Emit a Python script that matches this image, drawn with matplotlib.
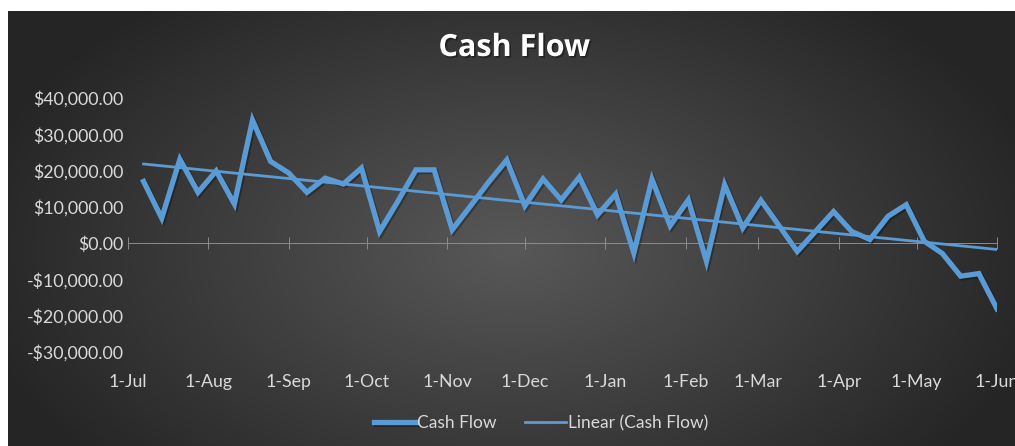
import numpy as np
import pandas as pd
import matplotlib
matplotlib.use("Agg")
import matplotlib.pyplot as plt
import matplotlib.dates as mdates
import matplotlib.ticker as mticker
import matplotlib.patheffects as pe

# weekly cash flow
dates = pd.date_range("2018-07-07", periods=48, freq="7D")
cash = [17000, 6900, 23100, 14000, 19900, 10800, 33900, 22500, 19300, 14000,
        17900, 16300, 20700, 3200, 11500, 20200, 20200, 3700, 10200, 16800,
        22900, 10300, 17700, 11900, 18200, 7800, 13500, -2700, 17600, 4800,
        11900, -5000, 16100, 4200, 11800, 4800, -2300, 3200, 8700, 3200,
        1000, 7400, 10600, 500, -2900, -9100, -8400, -18100]
month_ticks = pd.date_range("2018-07-01", "2019-06-01", freq="MS")

blue = "#5B9BD5"
txt = "#D9D9D9"

fig = plt.figure(figsize=(10.15, 4.46), dpi=100, facecolor="white")

# dark radial background of the chart area
bg = fig.add_axes([8/1015, 0, 1 - 8/1015, 1 - 11/446], zorder=-10)
gx, gy = np.meshgrid(np.linspace(0, 1, 400), np.linspace(0, 1, 200))
d = np.sqrt(((gx - 0.5) / 0.55) ** 2 + ((gy - 0.55) / 0.75) ** 2)
d = np.clip(d, 0, 1)
c0, c1 = 0x58 / 255, 0x25 / 255
shade = c0 + (c1 - c0) * d
img = np.dstack([shade, shade, shade])
bg.imshow(img, aspect="auto", extent=[0, 1, 0, 1], origin="upper")
bg.axis("off")

ax = fig.add_axes([128/1015, 1 - 352/446, (997 - 128)/1015, (352 - 98)/446])
ax.patch.set_alpha(0)

x = mdates.date2num(dates)
y = np.array(cash, dtype=float)

ax.plot(dates, y, color=blue, lw=3.8, solid_joinstyle="miter", label="Cash Flow", zorder=3,
        path_effects=[pe.SimpleLineShadow(offset=(1.2, -1.2), alpha=0.3, shadow_color="black"), pe.Normal()])

k, b = np.polyfit(x, y, 1)
ax.plot(dates, k * x + b, color=blue, lw=2.0, label="Linear (Cash Flow)", zorder=4)

# zero axis line with month tick marks
ax.axhline(0, color="#8C8C8C", lw=0.7, zorder=1)
ax.plot(month_ticks, np.zeros(len(month_ticks)), ls="none", marker="|", ms=9, mew=0.7,
        color="#8C8C8C", zorder=1)

ax.set_xlim(mdates.date2num(pd.Timestamp("2018-07-01")), mdates.date2num(pd.Timestamp("2019-06-01")))
ax.set_ylim(-30000, 40000)
ax.xaxis.set_major_locator(mdates.MonthLocator(bymonthday=1))
ax.xaxis.set_major_formatter(mdates.DateFormatter("%-d-%b"))
ax.yaxis.set_major_locator(mticker.MultipleLocator(10000))
ax.yaxis.set_major_formatter(mticker.FuncFormatter(
    lambda v, p: ("-$" if v < 0 else "$") + f"{abs(v):,.2f}"))

for s in ax.spines.values():
    s.set_visible(False)
ax.tick_params(axis="both", length=0, colors=txt)
ax.tick_params(axis="x", pad=16)
ax.tick_params(axis="y", pad=3)
for lab in ax.get_xticklabels() + ax.get_yticklabels():
    lab.set_fontfamily("Lato")
    lab.set_fontsize(12.8)
    lab.set_color(txt)

fig.text(514/1015, 1 - 48/446, "Cash Flow", ha="center", va="center", color="white",
         fontsize=22, fontweight="bold", fontfamily="Open Sans",
         path_effects=[pe.withSimplePatchShadow(offset=(1.2, -1.2), alpha=0.4, shadow_rgbFace="black")])

leg = fig.legend(loc="center", bbox_to_anchor=(541/1015, 1 - 423/446), ncol=2, frameon=False,
                 handlelength=2.4, handletextpad=0.1, columnspacing=1.6,
                 prop={"family": "Lato", "size": 12.5})
for t in leg.get_texts():
    t.set_color(txt)

fig.savefig("out.png", dpi=100, facecolor="white")
